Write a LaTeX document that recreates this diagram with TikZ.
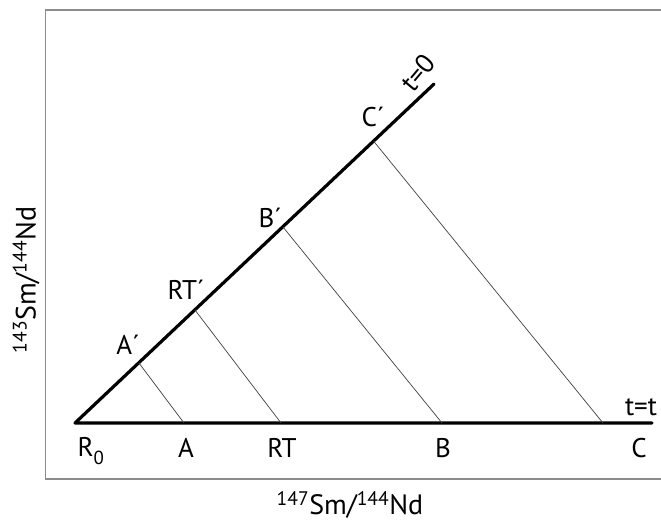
\documentclass[tikz,border=0pt]{standalone}
\usepackage{fontspec}
\setmainfont{PT Sans}
\begin{document}
\begin{tikzpicture}[x=1pt,y=-1pt,
  thickline/.style={line width=3.2pt,line cap=round,line join=round},
  thinline/.style={line width=0.7pt,draw=black!75},
  lab/.style={font=\fontsize{27}{29}\selectfont,inner sep=0pt},
  axlab/.style={font=\fontsize{28}{30}\selectfont,inner sep=0pt}]
\useasboundingbox (0,0) rectangle (661,523);
\draw[line width=1.3pt,draw=black!45] (662,10) -- (45.5,10) -- (45.5,479) -- (662,479);
% main lines
\coordinate (R0) at (75,423);
\coordinate (top) at (434,84);
\coordinate (end) at (652,423);
\draw[thickline] (top) -- (R0) -- (end);
% points
\coordinate (Ap) at (139,363);
\coordinate (RTp) at (195,310);
\coordinate (Bp) at (283,227);
\coordinate (Cp) at (373.5,141);
\coordinate (A) at (184,423);
\coordinate (RT) at (281,423);
\coordinate (B) at (442,423);
\coordinate (C) at (603,423);
\draw[thinline] (Ap) -- (A);
\draw[thinline] (RTp) -- (RT);
\draw[thinline] (Bp) -- (B);
\draw[thinline] (Cp) -- (C);
% labels
\node[lab] (lAp) at (128,345) {A´};
\node[lab] (lRTp) at (186,290) {RT´};
\node[lab] (lBp) at (270,218) {B´};
\node[lab] (lCp) at (373,117) {C´};
\node[lab,rotate=50] (lt0) at (418,73) {t=0};
\node[lab] (ltt) at (641,407) {t=t};
\node[lab] (lR0) at (91,451) {R\textsubscript{\raisebox{-0.5ex}{0}}};
\node[lab] (lA) at (186,448) {A};
\node[lab] (lRT) at (282,448) {RT};
\node[lab] (lB) at (443,448) {B};
\node[lab] (lC) at (639,448) {C};
\node[axlab] (xlab) at (350,505) {\textsuperscript{147}Sm/\textsuperscript{144}Nd};
\node[axlab,rotate=90] (ylab) at (26,280) {\textsuperscript{143}Sm/\textsuperscript{144}Nd};
\end{tikzpicture}
\end{document}
